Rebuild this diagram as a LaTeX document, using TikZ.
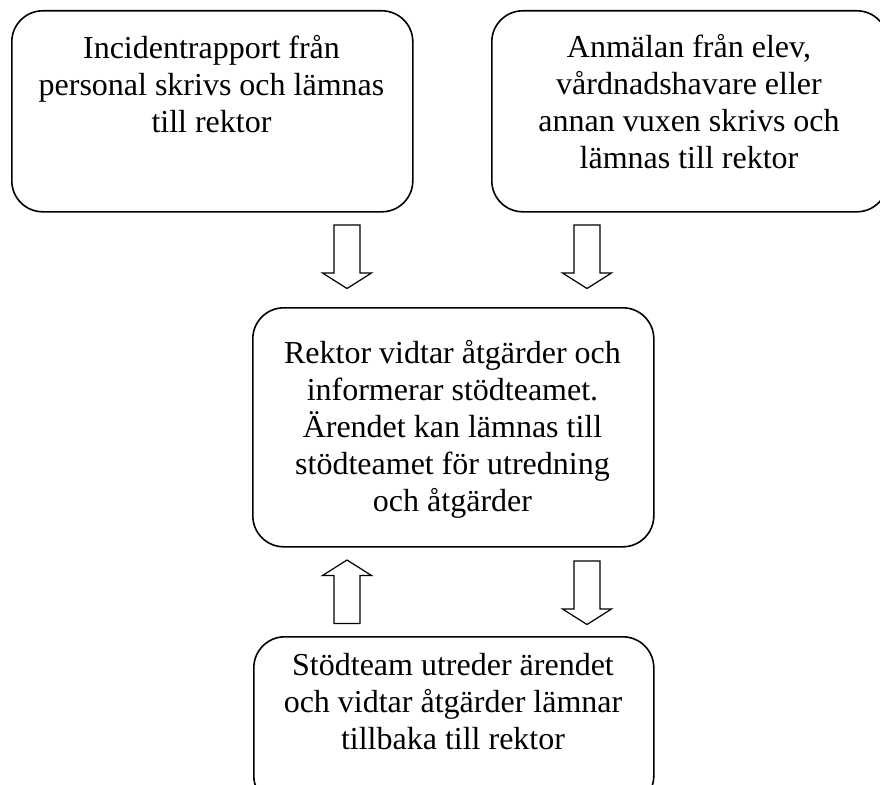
\documentclass[tikz,border=0pt]{standalone}
\usepackage{fontspec}
\setmainfont{Liberation Serif}
\begin{document}
\begin{tikzpicture}[x=1pt,y=-1pt,
  box/.style={draw, line width=1.6pt, rounded corners=31pt, inner sep=0pt, anchor=north west},
  txt/.style={align=center, inner sep=0pt, anchor=north, font=\fontsize{32}{37}\selectfont},
  barrow/.style={draw, line width=1.2pt, line join=miter, fill=white},
  darrow/.pic={\draw[barrow] (-13,0) -- (13,0) -- (13,48) -- (24.5,48) -- (0,63.5) -- (-24.5,48) -- (-13,48) -- cycle;}
]
\useasboundingbox (0,0) rectangle (880,784);
\clip (0,0) rectangle (880,784);
% boxes
\node[box, minimum width=401pt, minimum height=201pt] (b1) at (11,10) {};
\node[box, minimum width=396pt, minimum height=201pt] (b2) at (491,10) {};
\node[box, minimum width=401pt, minimum height=239pt] (b3) at (252,307) {};
\node[box, minimum width=400pt, minimum height=170pt] (b4) at (253,636) {};
% texts
\node[txt] (t1) at (211.5,28) {\rule{0pt}{30pt}Incidentrapport från\\personal skrivs och lämnas\\till rektor};
\node[txt] (t2) at (689,27) {\rule{0pt}{30pt}Anmälan från elev,\\vårdnadshavare eller\\annan vuxen skrivs och\\lämnas till rektor};
\node[txt] (t3) at (452.5,333) {\rule{0pt}{30pt}Rektor vidtar åtgärder och\\informerar stödteamet.\\Ärendet kan lämnas till\\stödteamet för utredning\\och åtgärder};
\node[txt] (t4) at (453,645) {\rule{0pt}{30pt}Stödteam utreder ärendet\\och vidtar åtgärder lämnar\\tillbaka till rektor};
% block arrows
\pic at (347,225) {darrow};
\pic at (587,225) {darrow};
\pic at (587,561) {darrow};
\pic[rotate=180] at (347,623.5) {darrow};
\end{tikzpicture}
\end{document}
